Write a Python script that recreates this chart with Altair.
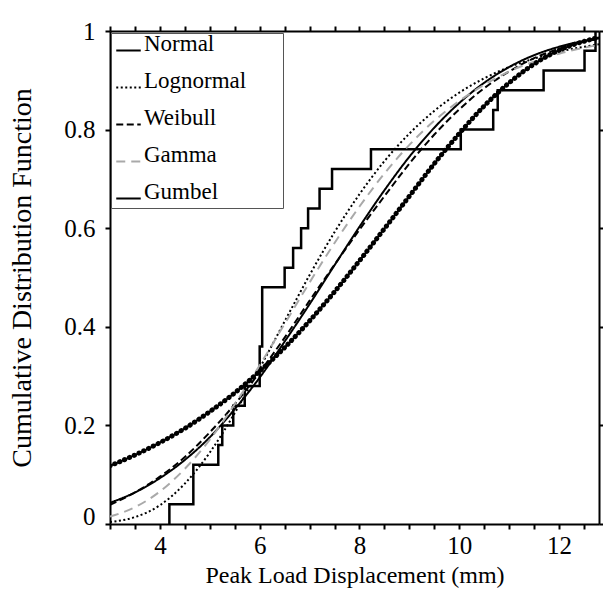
import altair as alt
import pandas as pd

# ---- data ----
x_grid = [3.0, 3.5, 4.0, 4.5, 5.0, 5.5, 6.0, 6.5, 7.0, 7.5, 8.0, 8.5, 9.0, 9.5,
          10.0, 10.5, 11.0, 11.5, 12.0, 12.5, 12.8]
normal_cdf = [0.043, 0.064, 0.093, 0.130, 0.176, 0.233, 0.297, 0.370, 0.446, 0.525, 0.603,
              0.677, 0.745, 0.804, 0.854, 0.895, 0.927, 0.951, 0.968, 0.980, 0.985]
lognormal_cdf = [0.004, 0.014, 0.038, 0.082, 0.145, 0.225, 0.316, 0.411, 0.505, 0.592, 0.669,
                 0.736, 0.792, 0.838, 0.875, 0.904, 0.927, 0.944, 0.958, 0.968, 0.973]
weibull_cdf = [0.039, 0.064, 0.096, 0.136, 0.186, 0.243, 0.308, 0.378, 0.453, 0.526, 0.597,
               0.665, 0.731, 0.790, 0.841, 0.884, 0.918, 0.945, 0.964, 0.978, 0.984]
gamma_cdf = [0.015, 0.034, 0.066, 0.112, 0.171, 0.243, 0.322, 0.406, 0.490, 0.570, 0.644,
             0.711, 0.769, 0.818, 0.858, 0.891, 0.918, 0.938, 0.954, 0.966, 0.972]
gumbel_cdf = [0.118, 0.140, 0.165, 0.194, 0.228, 0.266, 0.310, 0.358, 0.412, 0.471, 0.534,
              0.599, 0.665, 0.731, 0.792, 0.848, 0.895, 0.933, 0.961, 0.979, 0.987]

ecdf_x = [4.19, 4.19, 4.67, 5.17, 5.25, 5.47, 5.70, 6.00, 6.05, 6.50, 6.67, 6.83, 6.97,
          7.20, 7.45, 8.23, 10.03, 10.68, 10.77, 11.69, 12.51, 12.73, 12.80]
ecdf_y = [0.00, 0.04, 0.12, 0.16, 0.20, 0.24, 0.28, 0.36, 0.48, 0.52, 0.56, 0.60, 0.64,
          0.68, 0.72, 0.76, 0.80, 0.84, 0.88, 0.92, 0.96, 1.00, 1.00]

dist_names = ["Normal", "Lognormal", "Weibull", "Gamma", "Gumbel"]
dist_colors = ["black", "black", "black", "#a9a9a9", "black"]
dist_dashes = [[1, 0], [2, 2.5], [7, 3.5], [9, 6], [1, 0]]

x_ticks = [3.0, 3.5, 4.0, 4.5, 5.0, 5.5, 6.0, 6.5, 7.0, 7.5, 8.0, 8.5, 9.0, 9.5,
           10.0, 10.5, 11.0, 11.5, 12.0, 12.5]
y_ticks = [0, 0.2, 0.4, 0.6, 0.8, 1]

# ---- tables ----
rows = []
for name, vals in zip(dist_names, [normal_cdf, lognormal_cdf, weibull_cdf, gamma_cdf, gumbel_cdf]):
    for xv, yv in zip(x_grid, vals):
        rows.append({"dist": name, "x": xv, "y": yv})
curves = pd.DataFrame(rows)
gumbel = curves[curves["dist"] == "Gumbel"]
ecdf = pd.DataFrame({"x": ecdf_x, "y": ecdf_y})

FONT = "Liberation Serif"
xscale = alt.Scale(domain=[3, 12.8], nice=False, zero=False)
yscale = alt.Scale(domain=[0, 1], nice=False, zero=False)

axis_common = dict(domainColor="black", domainWidth=2, tickColor="black", tickWidth=2,
                   tickSize=5, grid=False, labelFont=FONT, labelFontSize=25,
                   labelColor="black", titleFont=FONT, titleColor="black",
                   titleFontWeight="normal", labelOverlap=False, labelFlush=False)

x_bottom = alt.Axis(values=x_ticks, format="~g",
                    labelExpr="datum.value % 2 === 0 ? datum.label : ''",
                    labelPadding=4, titlePadding=5, titleFontSize=24, **axis_common)
y_left = alt.Axis(values=y_ticks, format="~g", labelPadding=10, titlePadding=27,
                  titleFontSize=28,
                  labelOffset={"condition": {"test": "datum.value === 0", "value": -8},
                               "value": 0},
                  **axis_common)
x_top = alt.Axis(orient="top", values=x_ticks, labels=False, title=None,
                 domainColor="black", domainWidth=2, tickColor="black", tickWidth=2,
                 tickSize=5, grid=False)
y_right = alt.Axis(orient="right", values=y_ticks, labels=False, title=None,
                   domainColor="black", domainWidth=2, tickColor="black", tickWidth=2,
                   tickSize=5, grid=False)

legend = alt.Legend(title="mmm", titleOrient="right", titleColor="white", titleFontSize=12,
                    titlePadding=0, orient="none", legendX=1, legendY=2, fillColor="white",
                    strokeColor="#555555", padding=4, symbolType="stroke",
                    symbolSize=600, symbolStrokeWidth=2, labelFont=FONT, labelFontSize=23,
                    labelColor="black", labelBaseline="alphabetic", rowPadding=13,
                    labelOffset=2)

lines = alt.Chart(curves).mark_line(strokeWidth=2, interpolate="monotone", clip=True).encode(
    x=alt.X("x:Q", scale=xscale, axis=x_bottom, title="Peak Load Displacement (mm)"),
    y=alt.Y("y:Q", scale=yscale, axis=y_left, title="Cumulative Distribution Function"),
    color=alt.Color("dist:N", scale=alt.Scale(domain=dist_names, range=dist_colors),
                    sort=dist_names, legend=legend),
    strokeDash=alt.StrokeDash("dist:N", scale=alt.Scale(domain=dist_names, range=dist_dashes),
                              sort=dist_names, legend=legend),
)

gumbel_dots = alt.Chart(gumbel).mark_line(
    strokeWidth=5, strokeCap="round", strokeDash=[0.1, 5.2], color="black",
    interpolate="monotone", clip=True
).encode(
    x=alt.X("x:Q", scale=xscale, axis=None),
    y=alt.Y("y:Q", scale=yscale, axis=None),
)

step = alt.Chart(ecdf).mark_line(strokeWidth=2.5, color="black", interpolate="step-after",
                                 clip=True).encode(
    x=alt.X("x:Q", scale=xscale, axis=None),
    y=alt.Y("y:Q", scale=yscale, axis=None),
)

frame = alt.Chart(ecdf).mark_point(opacity=0).encode(
    x=alt.X("x:Q", scale=xscale, axis=x_top),
    y=alt.Y("y:Q", scale=yscale, axis=y_right),
)

chart = alt.layer(step, lines, gumbel_dots, frame).resolve_axis(
    x="independent", y="independent"
).properties(
    width=489, height=493,
    padding={"left": 110, "top": 31, "right": 4, "bottom": 74},
    autosize=alt.AutoSizeParams(type="none"),
).configure_view(stroke=None).configure(background="white")

chart.save("out.html", embed_options={"renderer": "svg", "actions": False})
